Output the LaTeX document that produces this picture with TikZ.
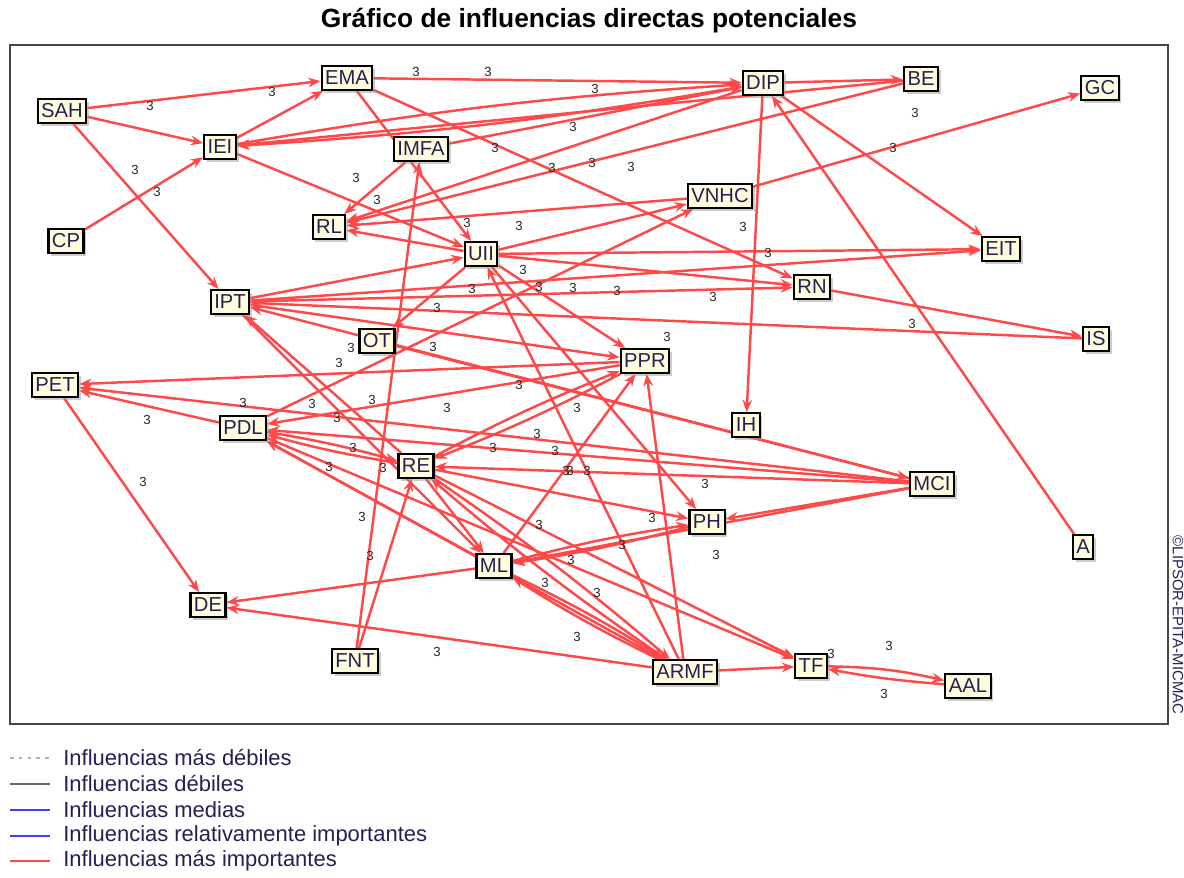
\documentclass[tikz,border=0pt]{standalone}
\usepackage{fontspec}
\setmainfont{Liberation Sans}
\usepackage{tikz}
\usetikzlibrary{arrows.meta}
\usetikzlibrary{backgrounds}
\usetikzlibrary{shadows}

\definecolor{inflred}{RGB}{255,72,72}
\definecolor{boxfill}{RGB}{255,252,222}
\definecolor{boxtext}{RGB}{40,30,85}
\definecolor{framegray}{RGB}{70,70,70}

\begin{document}
\begin{tikzpicture}[x=0.02cm,y=-0.02cm]
		\useasboundingbox (0,0) rectangle (1184,877);
		\node (title) at (589,21) {\fontsize{15}{17}\selectfont\bfseries Gráfico de influencias directas potenciales};
		\draw[framegray,line width=1pt] (10,45) rectangle (1168,724);
		\node[rotate=-90,text=boxtext] (credit) at (1178,625) {\fontsize{8.5}{9}\selectfont ©LIPSOR-EPITA-MICMAC};

		\begin{scope}[every node/.style={rectangle,draw=black,line width=1.2pt,fill=boxfill,text=boxtext,
		              inner xsep=2pt,inner ysep=1pt,minimum height=13.5pt,font=\fontsize{11.5}{12}\selectfont,
		              drop shadow={shadow xshift=1.6pt,shadow yshift=-1.6pt,fill=black!40}}]
			\node (SAH) at (62,111) {SAH};
			\node (EMA) at (347,78) {EMA};
			\node (IEI) at (220,147) {IEI};
			\node (IMFA) at (421,149) {IMFA};
			\node (DIP) at (763,83) {DIP};
			\node (BE) at (921,79) {BE};
			\node (GC) at (1100,88) {GC};
			\node (CP) at (66,241) {CP};
			\node (RL) at (329,227) {RL};
			\node (VNHC) at (720,196) {VNHC};
			\node (UII) at (481,254) {UII};
			\node (EIT) at (1001,249) {EIT};
			\node (IPT) at (230,302) {IPT};
			\node (RN) at (812,287) {RN};
			\node (OT) at (377,341) {OT};
			\node (IS) at (1096,339) {IS};
			\node (PET) at (55,385) {PET};
			\node (PPR) at (645,361) {PPR};
			\node (PDL) at (243,428) {PDL};
			\node (IH) at (746,425) {IH};
			\node (RE) at (416,466) {RE};
			\node (MCI) at (932,484) {MCI};
			\node (PH) at (707,522) {PH};
			\node (A) at (1083,547) {A};
			\node (ML) at (494,566) {ML};
			\node (DE) at (208,605) {DE};
			\node (FNT) at (355,661) {FNT};
			\node (ARMF) at (685,672) {ARMF};
			\node (TF) at (811,666) {TF};
			\node (AAL) at (968,686) {AAL};
		\end{scope}

		\begin{scope}[on background layer,>={Stealth[length=7pt,width=5.5pt]},
		              every edge/.style={draw=inflred,line width=1.4pt,->}]
			\path (SAH) edge (EMA);
			\path (SAH) edge (IEI);
			\path (SAH) edge (IPT);
			\path (CP) edge (IEI);
			\path (IEI) edge (EMA);
			\path (IEI) edge[bend left=3] (DIP);
			\path (DIP) edge[bend left=3] (IEI);
			\path (EMA) edge (DIP);
			\path (IMFA) edge (DIP);
			\path (DIP) edge (BE);
			\path (BE) edge (IEI);
			\path (BE) edge (RL);
			\path (DIP) edge (RL);
			\path (IMFA) edge (RL);
			\path (IEI) edge (UII);
			\path (EMA) edge (UII);
			\path (EMA) edge (RN);
			\path (DIP) edge (EIT);
			\path (DIP) edge (IH);
			\path (A) edge (DIP);
			\path (VNHC) edge (GC);
			\path (VNHC) edge (RL);
			\path (UII) edge (RL);
			\path (UII) edge (VNHC);
			\path (PDL) edge (VNHC);
			\path (IPT) edge (UII);
			\path (UII) edge (EIT);
			\path (UII) edge (RN);
			\path (UII) edge (PPR);
			\path (UII) edge (PH);
			\path (UII) edge (OT);
			\path (ARMF) edge (UII);
			\path (IPT) edge (EIT);
			\path (IPT) edge (RN);
			\path (IS) edge (IPT);
			\path (RN) edge (IS);
			\path (IPT) edge (PPR);
			\path (MCI) edge (IPT);
			\path (OT) edge (MCI);
			\path (PPR) edge (PET);
			\path (PDL) edge (PET);
			\path (MCI) edge (PET);
			\path (PET) edge (DE);
			\path (PPR) edge (PDL);
			\path (RE) edge[bend left=3] (PDL);
			\path (PDL) edge[bend left=3] (RE);
			\path (MCI) edge (PDL);
			\path (ML) edge (PDL);
			\path (ARMF) edge (PDL);
			\path (PDL) edge (TF);
			\path (RE) edge (IPT);
			\path (IPT) edge (ML);
			\path (RE) edge (PH);
			\path (RE) edge (TF);
			\path (RE) edge[bend left=3] (ARMF);
			\path (ARMF) edge[bend left=3] (RE);
			\path (RE) edge (ML);
			\path (FNT) edge (RE);
			\path (FNT) edge (IMFA);
			\path (PPR) edge[bend left=3] (RE);
			\path (RE) edge[bend left=3] (PPR);
			\path (MCI) edge (RE);
			\path (ML) edge (DE);
			\path (ML) edge (PPR);
			\path (ARMF) edge[bend left=3] (ML);
			\path (ML) edge[bend left=3] (ARMF);
			\path (MCI) edge (ML);
			\path (ML) edge[bend left=3] (PH);
			\path (PH) edge[bend left=3] (ML);
			\path (MCI) edge (PH);
			\path (ARMF) edge (PPR);
			\path (ARMF) edge (DE);
			\path (ARMF) edge (TF);
			\path (TF) edge[bend left=6] (AAL);
			\path (AAL) edge[bend left=3] (TF);
		\end{scope}

		% influence values
		\foreach \x/\y [count=\i] in {150/106,272/92,416/72,488/72,595/89,573/127,495/148,552/168,592/163,631/167,
		                               915/113,893/148,135/170,157/192,356/178,377/200,467/223,519/226,743/227,768/253,
		                               472/289,437/308,539/287,573/288,617/291,713/297,523/270,912/324,667/337,351/348,
		                               339/363,433/347,519/385,243/403,312/404,372/400,447/408,577/408,147/420,337/418,
		                               537/434,493/448,555/451,353/448,383/468,329/467,566/471,570/471,587/471,705/484,
		                               652/518,539/525,716/555,362/517,370/556,571/560,545/583,597/593,622/545,577/637,
		                               437/652,143/482,831/654,889/646,884/694}
			\node[text=black!85,inner sep=0pt,font=\fontsize{7.5}{8}\selectfont] (val\i) at (\x,\y) {3};

		% legend
		\draw[black!30,line width=0.6pt,dash pattern=on 2pt off 3pt] (10,758) -- (50,758);
		\draw[black!60,line width=0.6pt] (10,784) -- (50,784);
		\draw[blue!75,line width=0.6pt] (10,810) -- (50,810);
		\draw[blue!75,line width=1.4pt] (10,836) -- (50,836);
		\draw[inflred,line width=1.4pt] (10,861) -- (50,861);
		\begin{scope}[every node/.style={anchor=west,text=boxtext,inner sep=0pt,font=\fontsize{12.5}{14}\selectfont}]
			\node (leg1) at (63,758) {Influencias más débiles};
			\node (leg2) at (63,784) {Influencias débiles};
			\node (leg3) at (63,810) {Influencias medias};
			\node (leg4) at (63,836) {Influencias relativamente importantes};
			\node (leg5) at (63,861) {Influencias más importantes};
		\end{scope}
\end{tikzpicture}
\end{document}
